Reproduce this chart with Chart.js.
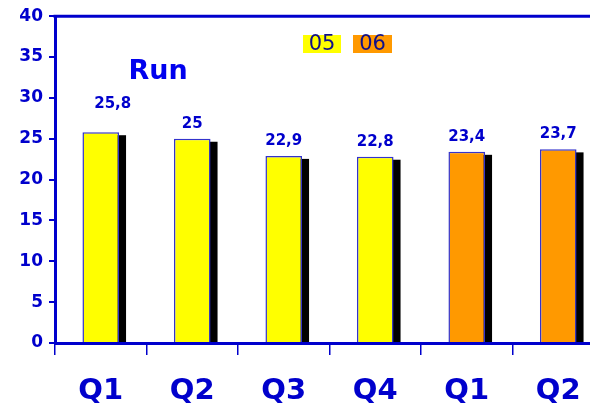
<!DOCTYPE html>
<html><head><meta charset="utf-8">
<script src="https://cdn.jsdelivr.net/npm/chart.js@4/dist/chart.umd.min.js"></script>
<style>
html,body{margin:0;padding:0;background:#fff;overflow:hidden;width:590px;height:407px}
#wrap{width:612px;height:407px}
</style></head>
<body><div id="wrap"><canvas id="c" width="612" height="407"></canvas></div>
<script>
const categories = ['Q1','Q2','Q3','Q4','Q1','Q2'];
const values = [25.8, 25, 22.9, 22.8, 23.4, 23.7];
const barSeries = ['05','05','05','05','06','06'];
const seriesNames = ['05','06'];
const seriesColors = {'05':'#FFFF00','06':'#FF9900'};
const yTicks = [0,5,10,15,20,25,30,35,40];
const chartTitle = 'Run';

const AXIS = '#0000CC';
const FONT = "'DejaVu Sans', Verdana, sans-serif";
// label offsets (style)
const labelDX = [12,0,0,0,0,0];
const labelDY = [28,15,15,15,15,15];

const decor = {
  id:'decor',
  beforeDatasetsDraw(chart){
    const ctx = chart.ctx, meta = chart.getDatasetMeta(0);
    ctx.save();
    ctx.fillStyle = '#000';
    meta.data.forEach(b=>{
      const w = b.width;
      ctx.fillRect(b.x - w/2 + 7, b.y + 3, w, b.base - b.y - 3);
    });
    ctx.restore();
  },
  afterDatasetsDraw(chart){
    const ctx = chart.ctx, meta = chart.getDatasetMeta(0), a = chart.chartArea;
    ctx.save();
    ctx.strokeStyle = AXIS; ctx.lineWidth = 3;
    ctx.beginPath(); ctx.moveTo(a.left-1.5, a.top); ctx.lineTo(chart.width, a.top); ctx.stroke();
    ctx.fillStyle = AXIS;
    ctx.font = "bold 15px " + FONT;
    ctx.textAlign = 'center'; ctx.textBaseline = 'middle';
    meta.data.forEach((b,i)=>{
      ctx.fillText(String(values[i]).replace('.', ','), b.x + labelDX[i], b.y - labelDY[i]);
    });
    ctx.fillStyle = '#0000EE';
    ctx.font = "bold 27px " + FONT;
    ctx.textBaseline = 'alphabetic';
    ctx.fillText(chartTitle, 158, 79);
    const boxes = [[303,35,38,18],[353,35,39,18]];
    ctx.font = "21px " + FONT;
    seriesNames.forEach((s,i)=>{
      const [x,y,w,h] = boxes[i];
      ctx.fillStyle = seriesColors[s];
      ctx.fillRect(x,y,w,h);
      ctx.fillStyle = '#10108A';
      ctx.textBaseline = 'middle';
      ctx.fillText(s, x + w/2, y + h/2 + 1);
    });
    ctx.restore();
  }
};

new Chart(document.getElementById('c'), {
  type:'bar',
  data:{
    labels: categories,
    datasets:[{
      data: values,
      backgroundColor: barSeries.map(s=>seriesColors[s]),
      borderColor:'#3333CC',
      borderWidth:1.5,
      barPercentage:0.8,
      categoryPercentage:0.5
    }]
  },
  options:{
    responsive:false,
    animation:false,
    devicePixelRatio:1,
    layout:{padding:{top:16,right:8,left:0,bottom:0}},
    plugins:{legend:{display:false},tooltip:{enabled:false}},
    scales:{
      x:{
        grid:{offset:true,drawOnChartArea:false,drawTicks:true,tickLength:12,color:AXIS,lineWidth:1.5},
        border:{display:true,color:AXIS,width:3},
        ticks:{color:AXIS,font:{family:FONT,size:29,weight:'bold'},padding:19,maxRotation:0},
        afterFit(s){ s.height = 64; }
      },
      y:{
        min:0,max:40,
        afterBuildTicks(s){ s.ticks = yTicks.map(v=>({value:v})); },
        grid:{drawOnChartArea:false,drawTicks:true,tickLength:6,color:AXIS,lineWidth:2},
        border:{display:true,color:AXIS,width:3},
        ticks:{color:AXIS,font:{family:FONT,size:17,weight:'bold'},padding:6},
        afterFit(s){ s.width = 55; }
      }
    }
  },
  plugins:[decor]
});
</script>
</body></html>
